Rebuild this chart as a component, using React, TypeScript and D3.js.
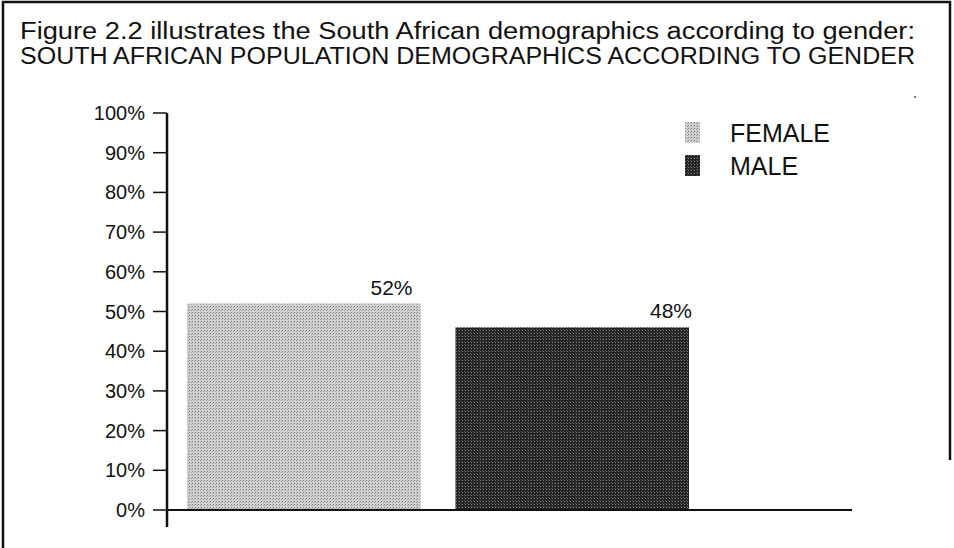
import { useMemo } from 'react';
import * as d3 from 'd3';

const categories = ['FEMALE', 'MALE'];
const barValues = [52, 46];
const barLabels = ['52%', '48%'];
const yTicks = [0, 10, 20, 30, 40, 50, 60, 70, 80, 90, 100];
const titleLines = [
  'Figure 2.2 illustrates the South African demographics according to gender:',
  'SOUTH AFRICAN POPULATION DEMOGRAPHICS ACCORDING TO GENDER',
];

const W = 954;
const H = 548;
const AXIS_X = 167;
const FONT = '"Liberation Sans", Arial, sans-serif';
const COLORS = ['url(#dotsLight)', 'url(#dotsDark)'];
// value labels sit a little off the bar's right edge
const LABEL_DX = [-8, 3];

export default function App() {
  const y = useMemo(() => d3.scaleLinear().domain([0, 100]).range([510, 113]), []);
  const x = useMemo(
    () => d3.scaleBand<string>().domain(categories).range([187, 689]).paddingInner(0.13).paddingOuter(0),
    [],
  );

  return (
    <div style={{ position: 'fixed', left: 0, top: 0 }}>
      <svg width={W} height={H} style={{ display: 'block', background: '#fff' }}>
        <defs>
          <pattern id="dotsLight" width="3" height="3" patternUnits="userSpaceOnUse">
            <rect width="3" height="3" fill="#d2d2d2" />
            <rect width="1" height="1" fill="#777" />
            <rect x="2" y="1" width="1" height="1" fill="#999" />
          </pattern>
          <pattern id="dotsDark" width="3" height="3" patternUnits="userSpaceOnUse">
            <rect width="3" height="3" fill="#222" />
            <rect width="1" height="1" fill="#888" />
            <rect x="2" y="2" width="1" height="1" fill="#555" />
          </pattern>
        </defs>

        {/* frame */}
        <path d={`M3,${H} V2 H950 V460`} fill="none" stroke="#111" strokeWidth={2.5} />
        <circle cx={915} cy={97} r={1} fill="#555" />

        {titleLines.map((t, i) => (
          <text
            key={i}
            x={20}
            y={39 + i * 25}
            fontFamily={FONT}
            fontSize={23}
            textLength={895}
            lengthAdjust="spacingAndGlyphs"
            fill="#111"
          >
            {t}
          </text>
        ))}

        {/* bars */}
        {categories.map((c, i) => (
          <g key={c}>
            <rect
              x={x(c)}
              y={y(barValues[i])}
              width={x.bandwidth()}
              height={y(0) - y(barValues[i])}
              fill={COLORS[i]}
            />
            <text
              x={(x(c) ?? 0) + x.bandwidth() + LABEL_DX[i]}
              y={y(barValues[i]) - 9}
              textAnchor="end"
              fontFamily={FONT}
              fontSize={21}
              fill="#111"
            >
              {barLabels[i]}
            </text>
          </g>
        ))}

        {/* y axis */}
        <line x1={AXIS_X} x2={AXIS_X} y1={y(100)} y2={527} stroke="#111" strokeWidth={2.5} />
        {yTicks.map((t) => (
          <g key={t}>
            <line x1={AXIS_X - 14} x2={AXIS_X} y1={y(t)} y2={y(t)} stroke="#111" strokeWidth={1.5} />
            <text
              x={AXIS_X - 22}
              y={y(t) + 7}
              textAnchor="end"
              fontFamily={FONT}
              fontSize={20}
              fill="#111"
            >
              {t}%
            </text>
          </g>
        ))}

        {/* x axis */}
        <line x1={AXIS_X} x2={852} y1={y(0)} y2={y(0)} stroke="#111" strokeWidth={2} />

        {/* legend */}
        {categories.map((c, i) => (
          <g key={c} transform={`translate(685, ${122 + i * 33})`}>
            <rect width={15} height={21} fill={COLORS[i]} />
            <text x={45} y={20} fontFamily={FONT} fontSize={25} fill="#111">
              {c}
            </text>
          </g>
        ))}
      </svg>
    </div>
  );
}
